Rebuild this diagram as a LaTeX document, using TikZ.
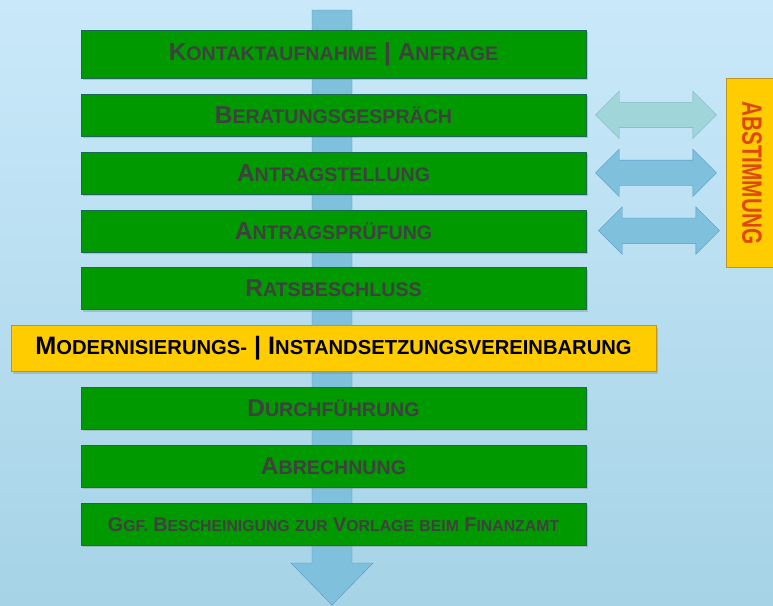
\documentclass[tikz,border=0pt]{standalone}
\usepackage{fontspec}
\usepackage{graphicx}
\setmainfont{Liberation Sans}
\newfontfamily\tallfont{Liberation Sans}[FakeStretch=0.74]
\usetikzlibrary{positioning,shapes.arrows,shadows,calc}

\definecolor{skytop}{RGB}{201,233,250}
\definecolor{skybottom}{RGB}{166,211,230}
\definecolor{stepgreen}{RGB}{0,153,0}
\definecolor{stepline}{RGB}{25,105,85}
\definecolor{gold}{RGB}{255,204,0}
\definecolor{goldline}{RGB}{190,150,40}
\definecolor{flowblue}{RGB}{127,192,220}
\definecolor{flowline}{RGB}{85,150,195}
\definecolor{paleteal}{RGB}{160,214,218}
\definecolor{paleline}{RGB}{120,180,195}
\definecolor{labelgray}{RGB}{64,64,64}
\definecolor{signalred}{RGB}{222,72,10}

\newcommand\kap[2]{#1{\fontsize{\kapsmall}{\kapbig}\selectfont#2}}

\tikzset{
  kap size/.style 2 args={
    font={\def\kapbig{#1}\def\kapsmall{#2}\fontsize{#1}{#1}\selectfont\bfseries},
  },
  green box/.style={
    fill=stepgreen,
    draw=stepline,
    minimum width=505pt,
    minimum height={#1},
    text=labelgray,
    kap size={24.5}{19.6},
    drop shadow={shadow xshift=2pt,shadow yshift=-2pt,opacity=.35},
  },
  green box/.default=42pt,
  gold box/.style={
    fill=gold,
    draw=goldline,
    minimum width=645pt,
    minimum height=46pt,
    text=black,
    kap size={25.2}{20.2},
    drop shadow={shadow xshift=2pt,shadow yshift=-2pt,opacity=.35},
  },
  both ways/.style={
    double arrow,
    double arrow head extend=11pt,
    minimum height=121pt,
    minimum width=47pt,
    inner xsep=0pt,
    inner ysep=12.5pt,
    fill=flowblue,
    draw=flowline,
  },
  flow arrow/.style={
    fill=flowblue,
    draw=flowline,
  },
}

\begin{document}
\begin{tikzpicture}[x=1pt,y=-1pt,node distance=15.5pt]
        \useasboundingbox (0,0) rectangle (773,605);
        \shade[top color=skytop,bottom color=skybottom] (0,0) rectangle (773,605);

        \coordinate (flow top) at (332,10);
        \coordinate (flow tip) at (332,605);
        \draw [flow arrow] (flow top) ++(-20,0) -- ++(0,553) -- ++(-21,0) -- (flow tip)
          -- ++(41,-42) -- ++(-21,0) -- ++(0,-553) -- cycle;

        \node [green box=48pt] (kontakt) at (333.5,54) {\kap{K}{ONTAKTAUFNAHME} | \kap{A}{NFRAGE}};
        \node [green box, below=of kontakt] (beratung) {\kap{B}{ERATUNGSGESPRÄCH}};
        \node [green box, below=of beratung] (antrag) {\kap{A}{NTRAGSTELLUNG}};
        \node [green box, below=of antrag] (pruefung) {\kap{A}{NTRAGSPRÜFUNG}};
        \node [green box, below=of pruefung] (rat) {\kap{R}{ATSBESCHLUSS}};
        \node [gold box, below=of rat] (vereinbarung) {\kap{M}{ODERNISIERUNGS-} | \kap{I}{NSTANDSETZUNGSVEREINBARUNG}};
        \node [green box, below=of vereinbarung] (durchfuehrung) {\kap{D}{URCHFÜHRUNG}};
        \node [green box, below=of durchfuehrung] (abrechnung) {\kap{A}{BRECHNUNG}};
        \node [green box, below=of abrechnung, kap size={19.8}{15.8}] (finanzamt)
          {\kap{G}{GF.} \kap{B}{ESCHEINIGUNG} \kap{}{ZUR} \kap{V}{ORLAGE} \kap{}{BEIM} \kap{F}{INANZAMT}};

        \node [both ways, fill=paleteal, draw=paleline, right=9pt of beratung] (a1) {};
        \node [both ways, right=9pt of antrag] (a2) {};
        \node [both ways, right=12pt of pruefung] (a3) {};

        \node [fill=gold, draw=goldline, minimum width=52pt, minimum height=189pt,
          right=9pt of a2, text=signalred, font=\tallfont\bfseries\fontsize{28}{28}\selectfont]
          (abstimmung) {\rotatebox{-90}{ABSTIMMUNG}};
      \end{tikzpicture}
\end{document}
